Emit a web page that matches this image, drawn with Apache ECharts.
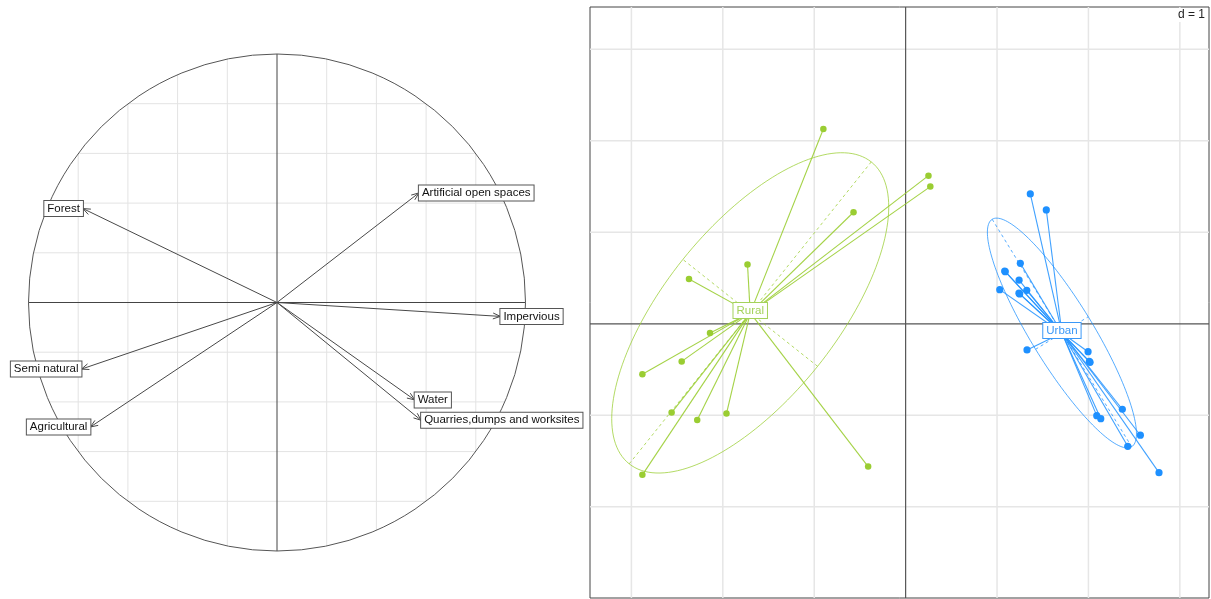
<!DOCTYPE html>
<html><head><meta charset="utf-8">
<script src="https://cdn.jsdelivr.net/npm/echarts@6/dist/echarts.min.js"></script>
<style>html,body{margin:0;padding:0;background:#fff}#c{width:1211px;height:599px}</style>
</head><body><div id="c"></div>
<script>
// ---------- Left panel: correlation circle ----------
const varNames = ['Forest', 'Artificial open spaces', 'Impervious', 'Semi natural', 'Agricultural', 'Water', 'Quarries,dumps and worksites'];
const varX = [-0.781, 0.571, 0.899, -0.787, -0.751, 0.554, 0.580];
const varY = [0.378, 0.441, -0.056, -0.268, -0.501, -0.392, -0.474];
const circleGridTicks = [-0.8, -0.6, -0.4, -0.2, 0.2, 0.4, 0.6, 0.8];

// ---------- Right panel: class scatter ----------
const classNames = ['Rural', 'Urban'];
const ruralX = [-0.90, -0.57, -1.73, -2.37, -2.14, -2.45, -2.88, -2.56, -2.28, -1.96, -2.88, -0.41, 0.25, 0.27];
const ruralY = [2.13, 1.22, 0.65, 0.49, -0.10, -0.41, -0.55, -0.97, -1.05, -0.98, -1.65, -1.56, 1.62, 1.50];
const urbanX = [1.364, 1.539, 1.255, 1.084, 1.090, 1.241, 1.030, 1.248, 1.240, 1.325, 1.328, 1.996, 2.018, 2.010, 2.371, 2.091, 2.135, 2.430, 2.568, 2.772];
const urbanY = [1.420, 1.245, 0.662, 0.578, 0.570, 0.477, 0.374, 0.327, 0.335, 0.367, -0.285, -0.304, -0.420, -0.410, -0.933, -1.003, -1.036, -1.338, -1.217, -1.626];
const centerX = [-1.70, 1.71];
const centerY = [0.12, -0.10];
const majorX = [1.324, 0.763];
const majorY = [1.650, -1.243];
const minorX = [-0.737, 0.288];
const minorY = [0.584, 0.178];
const gridXTicks = [-3, -2, -1, 1, 2, 3];
const gridYTicks = [-2, -1, 1, 2, 3];
const scaleLabel = 'd = 1';

const FONT = '"Liberation Sans", Arial, sans-serif';
const RX = [-3.453, 3.319], RY = [-2.996, 3.463];
const colPoint = ['#9ACD32', '#1E90FF'];
const colLine = ['rgba(154,205,50,0.9)', 'rgba(30,144,255,0.85)'];
const colEll = ['rgba(154,205,50,0.75)', 'rgba(30,144,255,0.75)'];
const colLabel = ['#a4d25c', '#3b98f7'];

const chart = echarts.init(document.getElementById('c'), null, {renderer: 'canvas'});

function seg(a, b, style) { return {type: 'line', shape: {x1: a[0], y1: a[1], x2: b[0], y2: b[1]}, style: style}; }

// left: circle + grid chords + axes
function circleItem(params, api) {
  const c = api.coord([0, 0]);
  const r = api.size([1, 1])[0];
  const ch = [];
  const gs = {stroke: '#e3e3e3', lineWidth: 1};
  circleGridTicks.forEach(t => {
    const h = Math.sqrt(1 - t * t);
    ch.push(seg(api.coord([-h, t]), api.coord([h, t]), gs));
    ch.push(seg(api.coord([t, -h]), api.coord([t, h]), gs));
  });
  ch.push(seg(api.coord([-1, 0]), api.coord([1, 0]), {stroke: '#444', lineWidth: 1}));
  ch.push(seg(api.coord([0, -1]), api.coord([0, 1]), {stroke: '#444', lineWidth: 1}));
  ch.push({type: 'circle', shape: {cx: c[0], cy: c[1], r: r}, style: {stroke: '#555', fill: 'none', lineWidth: 1}});
  return {type: 'group', children: ch};
}

function arrowItem(params, api) {
  const o = api.coord([0, 0]);
  const x = api.value(0), y = api.value(1);
  const t = api.coord([x, y]);
  const a = Math.atan2(t[1] - o[1], t[0] - o[0]);
  const L = 8, th = 0.38;
  const st = {stroke: '#484848', lineWidth: 1};
  const p1 = [t[0] - L * Math.cos(a - th), t[1] - L * Math.sin(a - th)];
  const p2 = [t[0] - L * Math.cos(a + th), t[1] - L * Math.sin(a + th)];
  return {type: 'group', children: [
    seg(o, t, st), seg(t, p1, st), seg(t, p2, st),
    {type: 'text', x: t[0], y: t[1], z2: 10, style: {
      text: varNames[params.dataIndex], fill: '#111', font: '11.5px ' + FONT,
      align: x > 0 ? 'left' : 'right', verticalAlign: 'middle',
      backgroundColor: '#fff', borderColor: '#555', borderWidth: 1, padding: [2, 3, 1, 3]}}
  ]};
}

// right: grid lines
function rightGridItem(params, api) {
  const ch = [];
  const gs = {stroke: '#e6e6e6', lineWidth: 1.5};
  gridXTicks.forEach(v => ch.push(seg(api.coord([v, RY[0]]), api.coord([v, RY[1]]), gs)));
  gridYTicks.forEach(v => ch.push(seg(api.coord([RX[0], v]), api.coord([RX[1], v]), gs)));
  ch.push(seg(api.coord([0, RY[0]]), api.coord([0, RY[1]]), {stroke: '#555', lineWidth: 1.2}));
  ch.push(seg(api.coord([RX[0], 0]), api.coord([RX[1], 0]), {stroke: '#555', lineWidth: 1.2}));
  return {type: 'group', children: ch};
}

function ellipseItem(params, api) {
  const k = params.dataIndex;
  const pts = [];
  for (let i = 0; i <= 160; i++) {
    const t = i / 160 * 2 * Math.PI;
    pts.push(api.coord([centerX[k] + Math.cos(t) * majorX[k] + Math.sin(t) * minorX[k],
                        centerY[k] + Math.cos(t) * majorY[k] + Math.sin(t) * minorY[k]]));
  }
  const ds = {stroke: colEll[k], lineWidth: 1, lineDash: [3, 3]};
  return {type: 'group', children: [
    {type: 'polyline', shape: {points: pts}, style: {stroke: colEll[k], fill: 'none', lineWidth: 1}},
    seg(api.coord([centerX[k] - majorX[k], centerY[k] - majorY[k]]), api.coord([centerX[k] + majorX[k], centerY[k] + majorY[k]]), ds),
    seg(api.coord([centerX[k] - minorX[k], centerY[k] - minorY[k]]), api.coord([centerX[k] + minorX[k], centerY[k] + minorY[k]]), ds)
  ]};
}

function starItem(k) {
  return function (params, api) {
    const p = api.coord([api.value(0), api.value(1)]);
    const c = api.coord([centerX[k], centerY[k]]);
    return seg(p, c, {stroke: colLine[k], lineWidth: 1.1});
  };
}

function labelItem(params, api) {
  const k = params.dataIndex;
  const c = api.coord([centerX[k], centerY[k]]);
  return {type: 'text', x: c[0], y: c[1] - 2.5, z2: 20, style: {
    text: classNames[k], fill: colLabel[k], font: '11.5px ' + FONT, align: 'center', verticalAlign: 'middle',
    backgroundColor: '#fff', borderColor: colLabel[k], borderWidth: 1, padding: [2, 3, 1, 3]}};
}

const ruralData = ruralX.map((v, i) => [v, ruralY[i]]);
const urbanData = urbanX.map((v, i) => [v, urbanY[i]]);

chart.setOption({
  animation: false,
  grid: [
    {left: 28.5, top: 54, width: 497, height: 497, show: false},
    {left: 590, top: 7, width: 619, height: 591, show: true, borderColor: '#444', borderWidth: 1, backgroundColor: '#fff'}
  ],
  xAxis: [
    {gridIndex: 0, type: 'value', min: -1, max: 1, show: false},
    {gridIndex: 1, type: 'value', min: RX[0], max: RX[1], show: false}
  ],
  yAxis: [
    {gridIndex: 0, type: 'value', min: -1, max: 1, show: false},
    {gridIndex: 1, type: 'value', min: RY[0], max: RY[1], show: false}
  ],
  graphic: [{
    type: 'text', right: 4, top: 8, z: 100,
    style: {text: scaleLabel, fill: '#222', font: '12px ' + FONT, backgroundColor: '#fff', padding: [1, 2]}
  }],
  series: [
    {type: 'custom', xAxisIndex: 0, yAxisIndex: 0, silent: true, data: [[0, 0]], renderItem: circleItem},
    {type: 'custom', xAxisIndex: 0, yAxisIndex: 0, silent: true, z: 3, data: varX.map((v, i) => [v, varY[i]]), renderItem: arrowItem},
    {type: 'custom', xAxisIndex: 1, yAxisIndex: 1, silent: true, data: [[0, 0]], renderItem: rightGridItem},
    {type: 'custom', xAxisIndex: 1, yAxisIndex: 1, silent: true, z: 3, data: [[centerX[0], centerY[0]], [centerX[1], centerY[1]]], renderItem: ellipseItem},
    {type: 'custom', xAxisIndex: 1, yAxisIndex: 1, silent: true, z: 4, data: ruralData, renderItem: starItem(0)},
    {type: 'custom', xAxisIndex: 1, yAxisIndex: 1, silent: true, z: 4, data: urbanData, renderItem: starItem(1)},
    {type: 'scatter', xAxisIndex: 1, yAxisIndex: 1, silent: true, z: 5, data: ruralData, symbolSize: 6.5, itemStyle: {color: colPoint[0], opacity: 1}},
    {type: 'scatter', xAxisIndex: 1, yAxisIndex: 1, silent: true, z: 5, data: urbanData, symbolSize: 7.2, itemStyle: {color: colPoint[1], opacity: 1}},
    {type: 'custom', xAxisIndex: 1, yAxisIndex: 1, silent: true, z: 6, data: [[centerX[0], centerY[0]], [centerX[1], centerY[1]]], renderItem: labelItem}
  ]
});
</script></body></html>
